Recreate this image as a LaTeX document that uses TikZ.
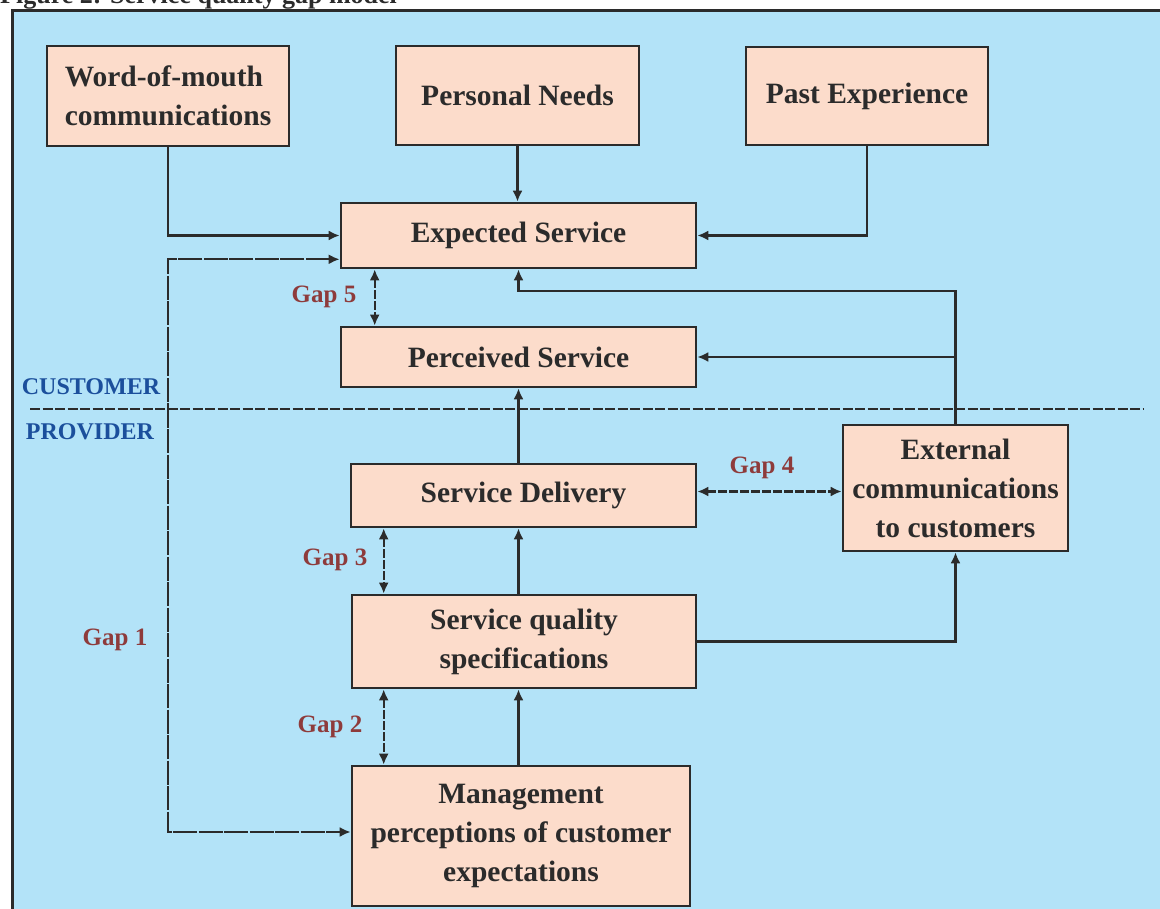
\documentclass[tikz,border=0pt]{standalone}
\usepackage{fontspec}
\setmainfont{Liberation Serif}
\usetikzlibrary{arrows.meta,calc}
\definecolor{bgblue}{HTML}{B3E3F8}
\definecolor{peach}{HTML}{FCDCCB}
\definecolor{ink}{HTML}{2B2B2B}
\definecolor{gapred}{HTML}{8E3B3B}
\definecolor{custblue}{HTML}{1B4F9C}
\begin{document}
\begin{tikzpicture}[x=1pt,y=-1pt,
 box/.style={draw=ink, line width=2.6pt, fill=peach, inner sep=0pt, align=center,
   font=\fontsize{29.5}{39}\selectfont\bfseries, text=ink},
 conn/.style={draw=ink, line width=2.4pt, -{Latex[length=11pt,width=10pt]}},
 gapconn/.style={draw=ink, line width=2.4pt, dash pattern=on 9pt off 2pt,
   {Latex[length=11pt,width=10pt]}-{Latex[length=11pt,width=10pt]}},
 gaplbl/.style={text=gapred, font=\fontsize{25}{28}\selectfont\bfseries, inner sep=0pt},
 sidelbl/.style={text=custblue, font=\fontsize{24}{27}\selectfont\bfseries, inner sep=0pt},
 sep/.style={draw=ink, line width=2pt, dash pattern=on 10pt off 2.5pt}]

\useasboundingbox (0,0) rectangle (1160,909);
\clip (0,0) rectangle (1160,909);
\fill[white] (0,0) rectangle (1160,909);
\node[anchor=base west, inner sep=0pt, text=ink, font=\fontsize{26}{30}\selectfont\bfseries] (cap) at (0,4) {Figure 2: Service quality gap model};
\draw[ink, line width=3pt, fill=bgblue] (12,11) rectangle (1190,940);

% boxes
\node[box, minimum width=242pt, minimum height=100pt, align=left] (wom) at (168,96) {Word-of-mouth\\communications};
\node[box, minimum width=243pt, minimum height=99pt] (pn) at (517.5,95.5) {Personal Needs};
\node[box, minimum width=242pt, minimum height=98pt] (pe) at (867,96) {Past Experience};
\node[box, minimum width=355pt, minimum height=65pt] (es) at (518.5,235.5) {Expected Service};
\node[box, minimum width=355pt, minimum height=60pt] (ps) at (518.5,357) {Perceived Service};
\node[box, minimum width=345pt, minimum height=63pt] (sd) at (523.5,495.5) {Service Delivery};
\node[box, minimum width=344pt, minimum height=93pt] (sqs) at (524,641.5) {Service quality\\specifications};
\node[box, minimum width=338pt, minimum height=140pt] (mg) at (521,836) {Management\\perceptions of customer\\expectations};
\node[box, minimum width=225pt, minimum height=126pt] (ext) at (955.5,488) {External\\communications\\to customers};

% separator and side labels
\draw[sep] (30,409) -- (1143,409);
\node[sidelbl] (cust) at (91,387) {CUSTOMER};
\node[sidelbl] (prov) at (90,432) {PROVIDER};

% connectors
\draw[conn] (wom.south) |- (es.west);
\draw[conn] (pn.south) -- (pn.south |- es.north);
\draw[conn] (pe.south) |- (es.east);
\draw[conn] (ext.north) |- ($(es.south)+(0,22)$) -- (es.south);
\draw[conn] (ext.north |- ps.east) -- (ps.east);
\draw[conn] (ps.south |- sd.north) -- (ps.south);
\draw[conn] (ps.south |- sqs.north) -- (ps.south |- sd.south);
\draw[conn] (sqs.east) -| (ext.south);
\draw[conn] (ps.south |- mg.north) -- (ps.south |- sqs.south);

% gaps
\draw[gapconn, dash pattern=on 24pt off 1.5pt] ($(es.south west)+(0,-10)$) -| ($(wom.south |- mg.west)+(0,-4)$) -- ($(mg.west)+(0,-4)$);
\draw[gapconn] ($(es.south west)+(35,0)$) -- ($(ps.north west)+(35,0)$);
\draw[gapconn] ($(sd.east)+(0,-4)$) -- ($(sd.east -| ext.west)+(0,-4)$);
\draw[gapconn] ($(sd.south west)+(34,0)$) -- ($(sd.south west |- sqs.north)+(34,0)$);
\draw[gapconn] ($(sqs.south west)+(33,0)$) -- ($(sqs.south west |- mg.north)+(33,0)$);

\node[gaplbl] (g5) at (324,297) {Gap 5};
\node[gaplbl] (g4) at (762,468) {Gap 4};
\node[gaplbl] (g3) at (335,560) {Gap 3};
\node[gaplbl] (g2) at (330,727) {Gap 2};
\node[gaplbl] (g1) at (115,640) {Gap 1};
\end{tikzpicture}
\end{document}
